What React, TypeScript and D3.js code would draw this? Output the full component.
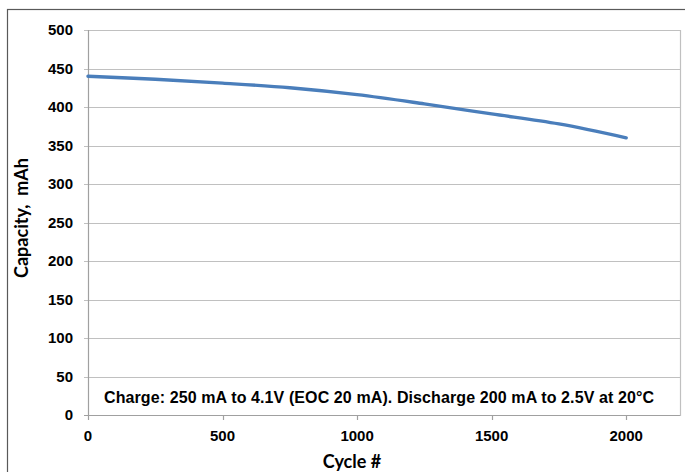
import React from "react";
import * as d3 from "d3";

const cycles = [0, 250, 500, 750, 1000, 1250, 1500, 1750, 2000];
const capacity = [440, 436, 431, 425, 416, 404, 391, 378, 360];
const yTicks = [0, 50, 100, 150, 200, 250, 300, 350, 400, 450, 500];
const xTicks = [0, 500, 1000, 1500, 2000];
const note = "Charge: 250 mA to 4.1V (EOC 20 mA). Discharge 200 mA to 2.5V at 20°C";
const xTitle = "Cycle #";
const yTitle = "Capacity,  mAh";

export default function App() {
  const W = 685, H = 472;
  const m = { left: 88, top: 30, right: 680, bottom: 415 };
  const x = d3.scaleLinear().domain([0, 2200]).range([m.left, m.right]);
  const y = d3.scaleLinear().domain([0, 500]).range([m.bottom, m.top]);
  const pts = cycles.map((c, i) => [c, capacity[i]] as [number, number]);
  const line = d3.line<[number, number]>().x(d => x(d[0])).y(d => y(d[1])).curve(d3.curveCatmullRom.alpha(0.5));
  const tickFont = "'Liberation Sans', Arial, sans-serif";
  const titleFont = "Lato, 'Open Sans', sans-serif";
  return (
    <svg width={W} height={H} style={{ position: "absolute", left: 0, top: 0, background: "#fff" }}>
      <rect x={7.5} y={9.5} width={W + 10} height={H + 10} fill="#fff" stroke="#595959" strokeWidth={1.2} />
      {yTicks.map(t => (
        <g key={t}>
          <line x1={m.left - 4} x2={m.right} y1={Math.round(y(t)) + 0.5} y2={Math.round(y(t)) + 0.5} stroke={t === 0 ? "#a0a0a0" : "#c0c0c0"} strokeWidth={1.2} />
          <text x={73} y={y(t)} dy="0.36em" textAnchor="end" fontFamily={tickFont} fontWeight="bold" fontSize={15} fill="#000">{t}</text>
        </g>
      ))}
      <line x1={m.left + 0.5} x2={m.left + 0.5} y1={m.top} y2={m.bottom + 1} stroke="#a0a0a0" strokeWidth={1.2} />
      <line x1={m.right + 0.5} x2={m.right + 0.5} y1={m.top} y2={m.bottom + 1} stroke="#c0c0c0" strokeWidth={1.2} />
      {xTicks.map(t => (
        <g key={t}>
          <line x1={Math.round(x(t)) + 0.5} x2={Math.round(x(t)) + 0.5} y1={m.bottom} y2={m.bottom + 5} stroke="#a0a0a0" strokeWidth={1.2} />
          <text x={x(t)} y={441} textAnchor="middle" fontFamily={tickFont} fontWeight="bold" fontSize={15} fill="#000">{t}</text>
        </g>
      ))}
      <path d={line(pts) || ""} fill="none" stroke="#4a7ebb" strokeWidth={3.4} strokeLinecap="round" />
      <text x={104} y={403} fontFamily={tickFont} fontWeight="bold" fontSize={16} textLength={550} lengthAdjust="spacing" fill="#000">{note}</text>
      <text x={352} y={468} textAnchor="middle" fontFamily={titleFont} fontWeight="bold" fontSize={18} fill="#000">{xTitle}</text>
      <text transform={`translate(28,218) rotate(-90)`} textAnchor="middle" fontFamily={titleFont} fontWeight="bold" fontSize={18} fill="#000" style={{ whiteSpace: "pre" }}>{yTitle}</text>
    </svg>
  );
}
